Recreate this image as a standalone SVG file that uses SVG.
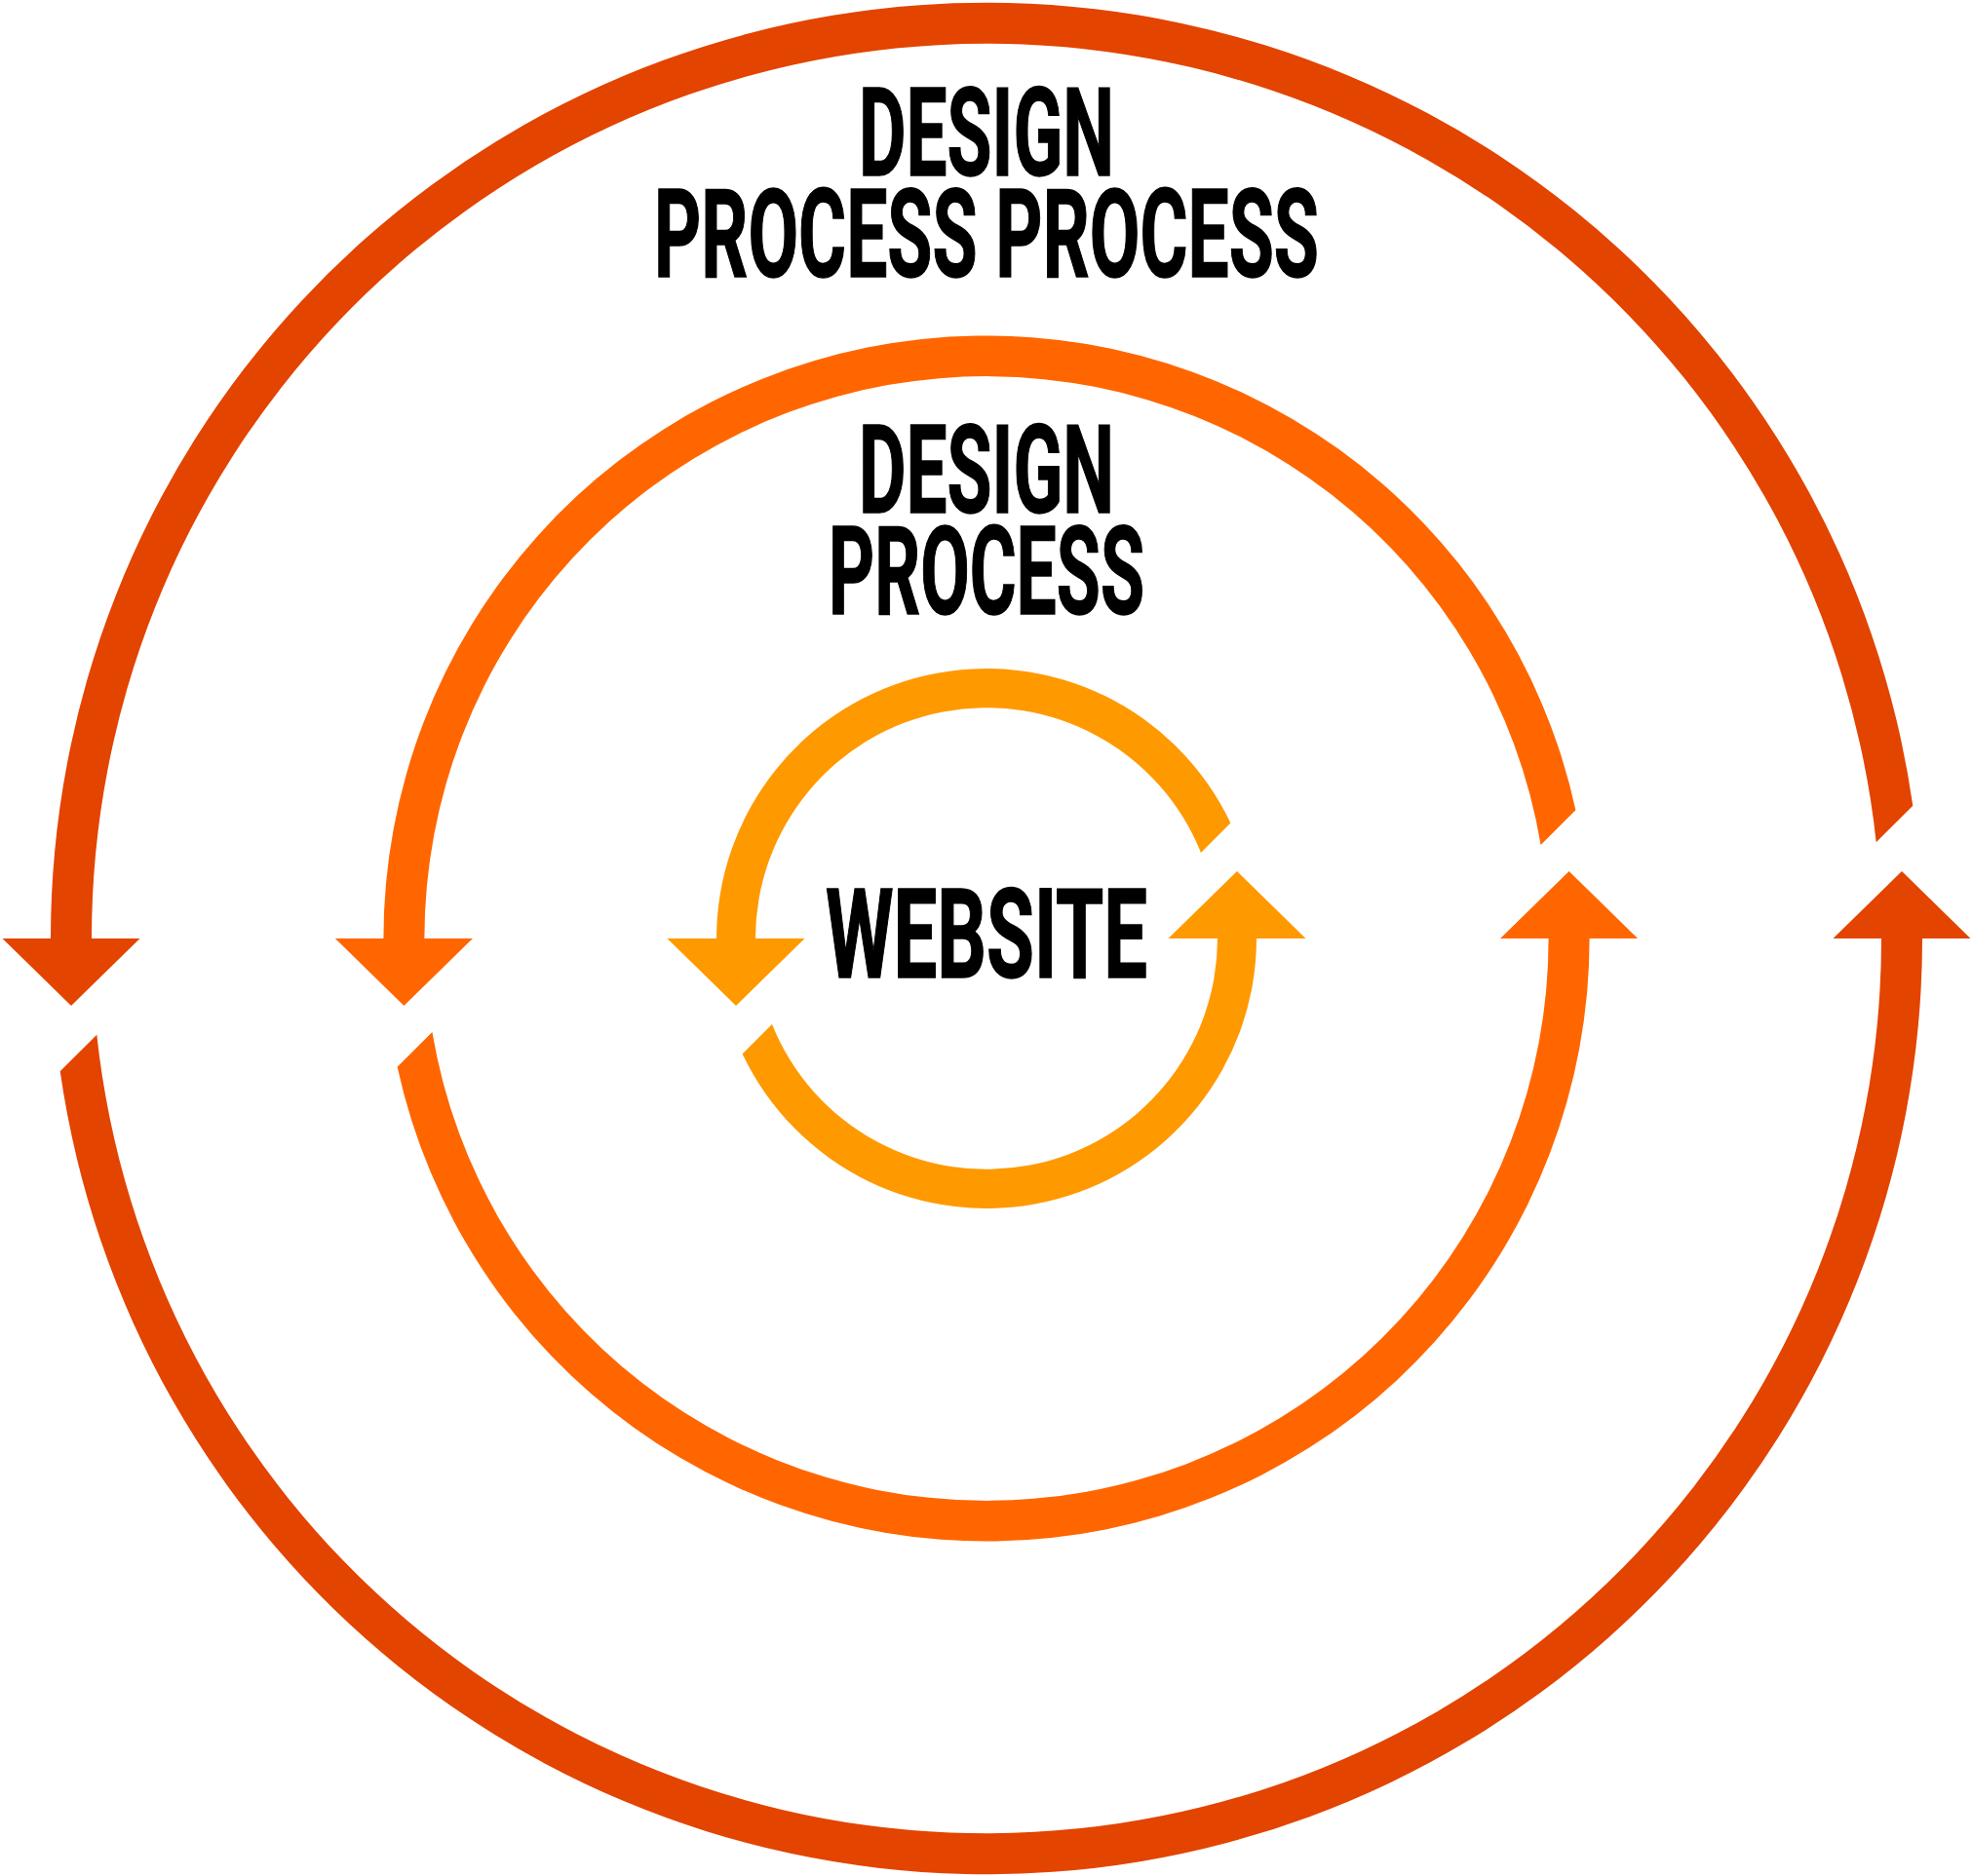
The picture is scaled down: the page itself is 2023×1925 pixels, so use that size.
<svg xmlns="http://www.w3.org/2000/svg" width="2023" height="1925" viewBox="0 0 2023 1925">
  <style>
    .outer { fill: #E34400; }
    .middle { fill: #FF6600; }
    .inner { fill: #FF9900; }
    .lbl { font-family: Roboto, "Liberation Sans", Arial, sans-serif; font-weight: bold; font-size: 126px; fill: #000; stroke: #000; stroke-width: 1.5; text-anchor: middle; }
  </style>
  <rect width="2023" height="1925" fill="#fff"/>
  <g id="connectors" transform="translate(1012,963)">
    <g id="outer-cycle">
      <path class="outer" d="M -960 0 A 960 960 0 0 1 950.3 -136.3 L 912.7 -98.7 A 918 918 0 0 0 -918 0 L -868.5 0 L -939 69 L -1009.5 0 Z"/>
      <path class="outer" d="M 960 0 A 960 960 0 0 1 -950.3 136.3 L -912.7 98.7 A 918 918 0 0 0 918 0 L 868.5 0 L 939 -69 L 1009.5 0 Z"/>
    </g>
    <g id="middle-cycle">
      <path class="middle" d="M -618.6 0 A 618.6 618.6 0 0 1 604.4 -131.8 L 568.6 -96 A 576.6 576.6 0 0 0 -576.6 0 L -527.1 0 L -597.6 69 L -668.1 0 Z"/>
      <path class="middle" d="M 618.6 0 A 618.6 618.6 0 0 1 -604.4 131.8 L -568.6 96 A 576.6 576.6 0 0 0 576.6 0 L 527.1 0 L 597.6 -69 L 668.1 0 Z"/>
    </g>
    <g id="inner-cycle">
      <path class="inner" d="M -277 0 A 277 277 0 0 1 250.4 -118.4 L 220 -88 A 237 237 0 0 0 -237 0 L -186.5 0 L -257 69 L -327.5 0 Z"/>
      <path class="inner" d="M 277 0 A 277 277 0 0 1 -250.4 118.4 L -220 88 A 237 237 0 0 0 237 0 L 186.5 0 L 257 -69 L 327.5 0 Z"/>
    </g>
  </g>
  <g id="label-design-process-process">
    <text class="lbl" x="1012" y="180" textLength="262" lengthAdjust="spacingAndGlyphs">DESIGN</text>
    <text class="lbl" x="1012" y="284" textLength="682" lengthAdjust="spacingAndGlyphs">PROCESS PROCESS</text>
  </g>
  <g id="label-design-process">
    <text class="lbl" x="1012" y="526" textLength="262" lengthAdjust="spacingAndGlyphs">DESIGN</text>
    <text class="lbl" x="1012" y="630" textLength="324" lengthAdjust="spacingAndGlyphs">PROCESS</text>
  </g>
  <g id="label-website">
    <text class="lbl" x="1012" y="1003" textLength="330" lengthAdjust="spacingAndGlyphs" style="font-size:128px">WEBSITE</text>
  </g>
</svg>
